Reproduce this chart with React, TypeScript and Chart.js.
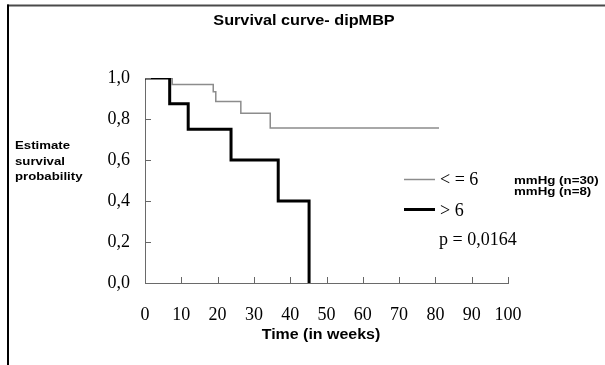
import React, { useEffect, useRef } from "react";
import { Chart, registerables } from "chart.js";

Chart.register(...registerables);

const title = "Survival curve- dipMBP";
const yTitleLines = ["Estimate", "survival", "probability"];
const xTitle = "Time (in weeks)";
const pValueText = "p = 0,0164";

const lowLabel = "< = 6";
const lowUnit = "mmHg (n=30)";
const lowTimes = [0, 7.5, 18.8, 19.5, 26.4, 34.5, 81];
const lowSurvival = [1.0, 0.968, 0.933, 0.885, 0.828, 0.756, 0.756];

const highLabel = "> 6";
const highUnit = "mmHg (n=8)";
const highTimes = [0, 6.8, 11.9, 23.7, 36.7, 45.2];
const highSurvival = [1.0, 0.875, 0.75, 0.6, 0.4, 0.0];

const xTicks = [0, 10, 20, 30, 40, 50, 60, 70, 80, 90, 100];
const yTicks = [0, 0.2, 0.4, 0.6, 0.8, 1.0];

const SERIF = "'Liberation Serif', 'Times New Roman', serif";
const SANS = "'Liberation Sans', Arial, sans-serif";

function wideText(
  ctx: CanvasRenderingContext2D,
  text: string,
  x: number,
  y: number,
  size: number,
  sx: number,
  align: CanvasTextAlign
) {
  ctx.save();
  ctx.translate(x, y);
  ctx.scale(sx, 1);
  ctx.font = `bold ${size}px ${SANS}`;
  ctx.textAlign = align;
  ctx.textBaseline = "middle";
  ctx.fillText(text, 0, 0);
  ctx.restore();
}

export default function App() {
  const ref = useRef<HTMLCanvasElement | null>(null);

  useEffect(() => {
    document.body.style.margin = "0";
    const canvas = ref.current;
    if (!canvas) return;

    const decorations = {
      id: "decorations",
      beforeDraw(chart: any) {
        const ctx = chart.ctx;
        ctx.save();
        ctx.fillStyle = "#ffffff";
        ctx.fillRect(0, 0, chart.width, chart.height);
        ctx.lineWidth = 2;
        ctx.strokeStyle = "#4a4a4a";
        ctx.beginPath();
        ctx.moveTo(7, 5.5);
        ctx.lineTo(chart.width, 5.5);
        ctx.stroke();
        ctx.strokeStyle = "#000000";
        ctx.beginPath();
        ctx.moveTo(8, 4.5);
        ctx.lineTo(8, chart.height);
        ctx.stroke();
        ctx.restore();
      },
      afterDraw(chart: any) {
        const ctx = chart.ctx;
        const xs = chart.scales.x;
        const ys = chart.scales.y;
        ctx.save();
        // inside ticks
        ctx.strokeStyle = "#666666";
        ctx.lineWidth = 1;
        const x0 = xs.getPixelForValue(0);
        const y0 = ys.getPixelForValue(0);
        yTicks.forEach((v) => {
          if (v === 0) return;
          const y = Math.round(ys.getPixelForValue(v)) + 0.5;
          ctx.beginPath();
          ctx.moveTo(x0, y);
          ctx.lineTo(x0 + 6, y);
          ctx.stroke();
        });
        xTicks.forEach((v) => {
          if (v === 0) return;
          const x = Math.round(xs.getPixelForValue(v)) + 0.5;
          ctx.beginPath();
          ctx.moveTo(x, y0);
          ctx.lineTo(x, y0 - 6);
          ctx.stroke();
        });

        ctx.fillStyle = "#000000";
        wideText(ctx, title, 304, 21, 14, 1.16, "center");
        wideText(ctx, xTitle, 321, 335, 14, 1.14, "center");
        yTitleLines.forEach((line, i) => {
          wideText(ctx, line, 15, 146 + i * 15.5, 11, 1.2, "left");
        });

        // legend
        const ds = chart.data.datasets;
        const low = ds[1];
        const high = ds[0];
        ctx.lineCap = "butt";
        ctx.strokeStyle = low.borderColor;
        ctx.lineWidth = low.borderWidth;
        ctx.beginPath();
        ctx.moveTo(404, 179.5);
        ctx.lineTo(435, 179.5);
        ctx.stroke();
        ctx.strokeStyle = high.borderColor;
        ctx.lineWidth = high.borderWidth;
        ctx.beginPath();
        ctx.moveTo(404, 209.5);
        ctx.lineTo(435, 209.5);
        ctx.stroke();

        ctx.textAlign = "left";
        ctx.textBaseline = "middle";
        ctx.font = `18px ${SERIF}`;
        ctx.fillText(lowLabel, 440, 180);
        ctx.fillText(highLabel, 440, 211);
        ctx.fillText(pValueText, 439, 240);

        wideText(ctx, lowUnit, 514, 181, 11, 1.21, "left");
        wideText(ctx, highUnit, 514, 192, 11, 1.21, "left");
        ctx.restore();
      },
    };

    const chart = new Chart(canvas, {
      type: "line",
      data: {
        datasets: [
          {
            label: highLabel + " " + highUnit,
            data: highTimes.map((t, i) => ({ x: t, y: highSurvival[i] })),
            borderColor: "#000000",
            borderWidth: 3,
            pointRadius: 0,
            stepped: "before",
            fill: false,
          },
          {
            label: lowLabel + " " + lowUnit,
            data: lowTimes.map((t, i) => ({ x: t, y: lowSurvival[i] })),
            borderColor: "#8c8c8c",
            borderWidth: 1.5,
            pointRadius: 0,
            stepped: "before",
            fill: false,
          },
        ],
      },
      options: {
        responsive: false,
        animation: false,
        layout: { padding: { left: 0, right: 97, top: 78, bottom: 0 } },
        plugins: {
          legend: { display: false },
          tooltip: { enabled: false },
          title: { display: false },
        },
        scales: {
          x: {
            type: "linear",
            min: 0,
            max: 100,
            afterFit: (scale: any) => {
              scale.height = 82;
            },
            afterBuildTicks: (scale: any) => {
              scale.ticks = xTicks.map((v) => ({ value: v }));
            },
            grid: { display: true, drawOnChartArea: false, drawTicks: false },
            border: { display: true, color: "#6a6a6a", width: 1 },
            ticks: {
              padding: 21,
              color: "#000000",
              font: { family: SERIF, size: 18 },
              maxRotation: 0,
              autoSkip: false,
              callback: (v: any) => String(v),
            },
          },
          y: {
            type: "linear",
            min: 0,
            max: 1,
            afterFit: (scale: any) => {
              scale.width = 145;
            },
            afterBuildTicks: (scale: any) => {
              scale.ticks = yTicks.map((v) => ({ value: v }));
            },
            grid: { display: true, drawOnChartArea: false, drawTicks: false },
            border: { display: true, color: "#6a6a6a", width: 1 },
            ticks: {
              padding: 15,
              color: "#000000",
              font: { family: SERIF, size: 18 },
              autoSkip: false,
              callback: (v: any) => Number(v).toFixed(1).replace(".", ","),
            },
          },
        },
      },
      plugins: [decorations],
    });

    return () => {
      chart.destroy();
    };
  }, []);

  return <canvas ref={ref} width={605} height={365} style={{ display: "block" }} />;
}
